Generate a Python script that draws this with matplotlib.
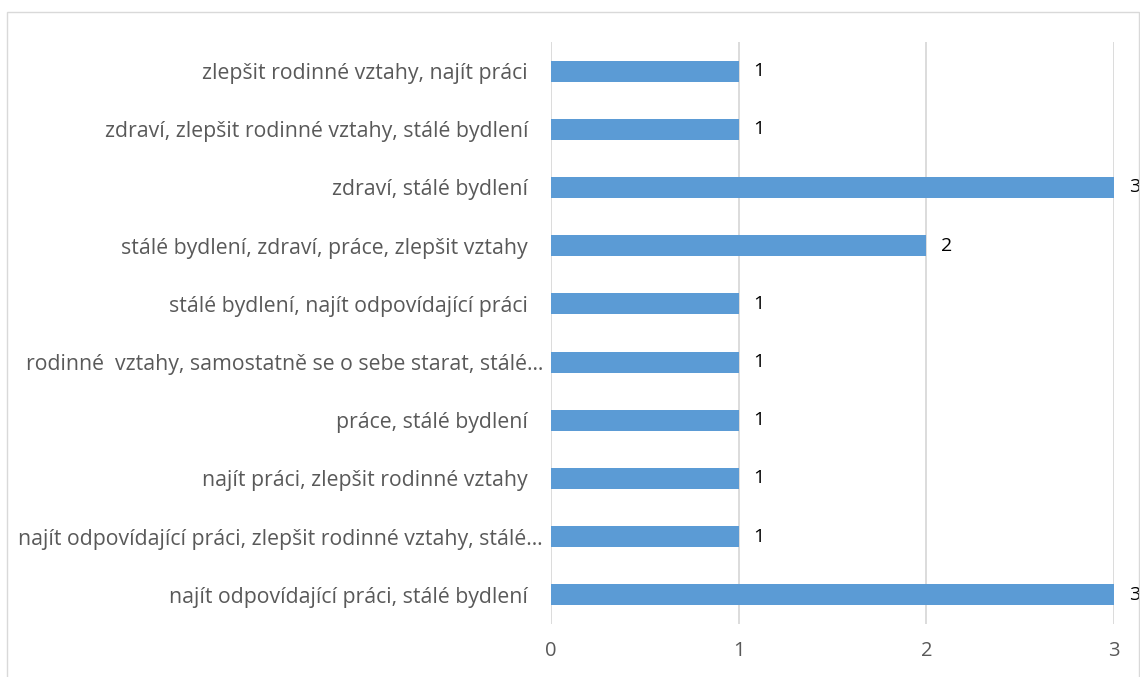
import matplotlib.pyplot as plt
from matplotlib.patches import Rectangle
from matplotlib.transforms import ScaledTranslation

# categories, bottom to top
categories = [
    "najít odpovídající práci, stálé bydlení",
    "najít odpovídající práci, zlepšit rodinné vztahy, stálé…",
    "najít práci, zlepšit rodinné vztahy",
    "práce, stálé bydlení",
    "rodinné  vztahy, samostatně se o sebe starat, stálé…",
    "stálé bydlení, najít odpovídající práci",
    "stálé bydlení, zdraví, práce, zlepšit vztahy",
    "zdraví, stálé bydlení",
    "zdraví, zlepšit rodinné vztahy, stálé bydlení",
    "zlepšit rodinné vztahy, najít práci",
]
values = [3, 1, 1, 1, 1, 1, 2, 3, 1, 1]
x_ticks = [0, 1, 2, 3]

plt.rcParams['font.family'] = ['Open Sans', 'DejaVu Sans']

fig = plt.figure(figsize=(11.4, 6.77), dpi=100)
ax = fig.add_axes([0.4833, 0.0783, 0.4939, 0.8597])

# chart frame
fig.patches.append(Rectangle((7 / 1140, -0.01), 1132 / 1140, 1 - 12 / 677 + 0.01,
                             transform=fig.transFigure, fill=False,
                             edgecolor="#d9d9d9", linewidth=1.0))

pos = list(range(len(categories)))
ax.barh(pos, values, height=0.36, color="#5b9bd5", zorder=3)
for p, v in zip(pos, values):
    ax.text(v + 0.08, p, str(v), va="center", ha="left", fontsize=14, color="black")

ax.set_xlim(0, 3)
ax.set_ylim(-0.5, len(categories) - 0.5)
ax.set_xticks(x_ticks)
ax.set_yticks(pos)
ax.set_yticklabels(categories)
ax.xaxis.grid(True, color="#d9d9d9", linewidth=1.3, zorder=0)
ax.tick_params(axis="both", length=0, colors="#595959")
ax.tick_params(axis="y", pad=16.5, labelsize=15.3)
ax.tick_params(axis="x", pad=12, labelsize=14.5)
for s in ax.spines.values():
    s.set_visible(False)

# truncated labels stick out a bit further right, like in Excel
shift = ScaledTranslation(15 / 100, 0, fig.dpi_scale_trans)
for lab in ax.get_yticklabels():
    if lab.get_text().endswith("…"):
        lab.set_transform(lab.get_transform() + shift)

fig.savefig("out.png", dpi=100)
